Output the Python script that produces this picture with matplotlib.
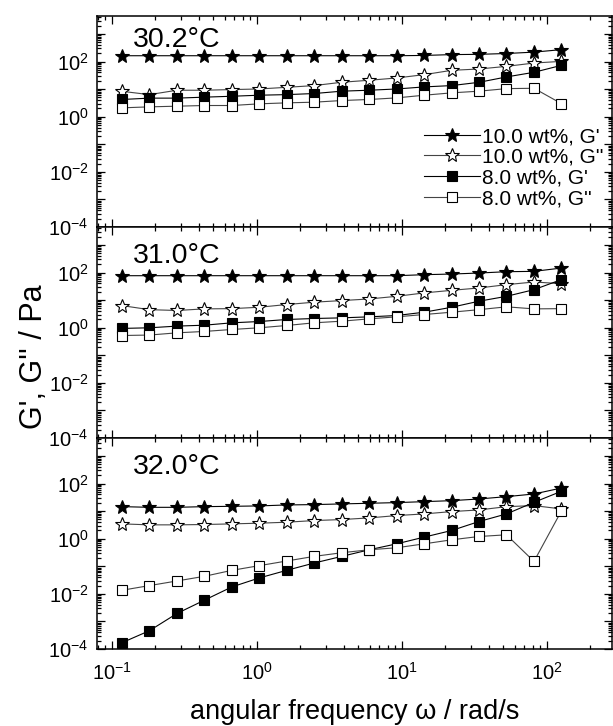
import math
import matplotlib
matplotlib.use("Agg")
import matplotlib.pyplot as plt
from matplotlib.ticker import LogLocator, FuncFormatter, NullFormatter

plt.rcParams["font.family"] = ["Liberation Sans", "DejaVu Sans"]
plt.rcParams["mathtext.fontset"] = "custom"
plt.rcParams["mathtext.rm"] = "Liberation Sans"
plt.rcParams["mathtext.it"] = "Liberation Sans:italic"
plt.rcParams["mathtext.default"] = "regular"

# angular frequency sweep (rad/s)
freq = [0.118, 0.182, 0.282, 0.436, 0.674, 1.04, 1.61, 2.49, 3.86, 5.97,
        9.23, 14.3, 22.1, 34.1, 52.8, 81.7, 126]

temps = ["30.2°C", "31.0°C", "32.0°C"]
series_labels = ["10.0 wt%, G'", "10.0 wt%, G''", "8.0 wt%, G'", "8.0 wt%, G''"]

# 30.2 °C
g1_10_302 = [162, 162, 162, 162, 162, 162, 162, 162, 162, 162, 162, 166, 178, 182, 195, 219, 269]
g2_10_302 = [8.3, 6.3, 9.1, 9.1, 9.6, 10.1, 11.6, 13.4, 17.7, 20.9, 25.3, 33.4, 47.9, 53.5, 66.7, 88.1, 101]
g1_8_302 = [4.2, 4.7, 4.7, 5.1, 5.5, 6.0, 6.3, 6.9, 8.4, 9.1, 10.1, 12.0, 13.4, 17.6, 27.6, 40.6, 72.4]
g2_8_302 = [2.09, 2.27, 2.40, 2.54, 2.54, 2.92, 3.17, 3.35, 3.85, 4.2, 4.8, 6.0, 7.3, 8.4, 10.4, 10.7, 3.0]

# 31.0 °C
g1_10_310 = [76.6, 76.6, 76.6, 76.6, 76.6, 76.6, 76.6, 76.6, 76.6, 76.6, 76.6, 83.4, 88, 95.7, 107, 110, 145]
g2_10_310 = [6.3, 4.5, 4.2, 4.8, 4.9, 5.5, 6.9, 8.4, 9.6, 11.0, 13.7, 18.2, 22.6, 27.5, 36.3, 45.3, 39.4]
g1_8_310 = [0.94, 0.99, 1.14, 1.23, 1.50, 1.67, 1.98, 2.15, 2.27, 2.47, 2.76, 3.64, 5.5, 9.1, 13.7, 23.9, 55]
g2_8_310 = [0.52, 0.54, 0.65, 0.73, 0.86, 0.99, 1.20, 1.50, 1.72, 2.09, 2.47, 3.0, 3.64, 4.5, 5.7, 4.8, 4.9]

# 32.0 °C
g1_10_320 = [14.5, 13.7, 13.7, 14.5, 14.9, 15.4, 16.7, 17.2, 18.2, 19.2, 20.3, 22.0, 23.9, 27.5, 33.4, 41.7, 68.5]
g2_10_320 = [3.44, 3.17, 3.17, 3.26, 3.44, 3.64, 3.95, 4.54, 4.93, 5.66, 6.88, 7.9, 9.6, 11.0, 14.5, 15.8, 12.0]
g1_8_320 = [1.7e-4, 4.6e-4, 1.94e-3, 5.9e-3, 0.0178, 0.0376, 0.0711, 0.131, 0.228, 0.396, 0.65, 1.14, 1.98, 4.18, 7.9, 20.8, 52]
g2_8_320 = [0.0135, 0.0199, 0.0293, 0.0432, 0.0711, 0.105, 0.155, 0.228, 0.309, 0.396, 0.468, 0.65, 0.91, 1.20, 1.38, 0.150, 9.9]

panels = [
    [g1_10_302, g2_10_302, g1_8_302, g2_8_302],
    [g1_10_310, g2_10_310, g1_8_310, g2_8_310],
    [g1_10_320, g2_10_320, g1_8_320, g2_8_320],
]

xlim = (0.0792, 282)
ylim = (1e-4, 10 ** 3.65)
y_labelled_exps = [-4, -2, 0, 2]

styles = [
    dict(marker="*", ms=10.5, mfc="black", mec="black"),
    dict(marker="*", ms=10.5, mfc="white", mec="black"),
    dict(marker="s", ms=6.8, mfc="black", mec="black"),
    dict(marker="s", ms=6.8, mfc="white", mec="black"),
]
line_colors = ["black", "#444444", "black", "#444444"]

fig = plt.figure(figsize=(6.13, 7.26), dpi=100)
gs = fig.add_gridspec(3, 1, left=97 / 613, right=612 / 613,
                      top=1 - 16 / 726, bottom=1 - 649 / 726, hspace=0)


def y_fmt(v, pos):
    e = round(math.log10(v))
    if abs(math.log10(v) - e) < 1e-6 and e in y_labelled_exps:
        return r"$10^{%d}$" % e
    return ""


label_y = [0.853, 0.83, 0.83]
axes = []
for i, data in enumerate(panels):
    ax = fig.add_subplot(gs[i])
    axes.append(ax)
    for vals, st, lc, lab in zip(data, styles, line_colors, series_labels):
        ax.plot(freq, vals, color=lc, lw=0.8, mew=0.8, label=lab, **st)
    ax.set_xscale("log")
    ax.set_yscale("log")
    ax.set_xlim(*xlim)
    ax.set_ylim(*ylim)
    ax.xaxis.set_major_locator(LogLocator(base=10, numticks=20))
    ax.xaxis.set_minor_locator(LogLocator(base=10, subs=range(2, 10), numticks=20))
    ax.yaxis.set_major_locator(LogLocator(base=10, numticks=20))
    ax.yaxis.set_minor_locator(LogLocator(base=10, subs=range(2, 10), numticks=20))
    ax.yaxis.set_major_formatter(FuncFormatter(y_fmt))
    ax.yaxis.set_minor_formatter(NullFormatter())
    ax.tick_params(which="both", direction="in", top=True, right=True,
                   width=0.9, labelsize=14.5)
    ax.tick_params(axis="y", pad=6)
    ax.tick_params(axis="x", pad=9)
    ax.tick_params(which="major", length=6)
    ax.tick_params(which="minor", length=3.2)
    for sp in ax.spines.values():
        sp.set_linewidth(1.1)
    if i < 2:
        ax.tick_params(labelbottom=False)
    ax.text(0.07, label_y[i], temps[i], transform=ax.transAxes,
            fontsize=20.5, va="baseline", ha="left")

leg = axes[0].legend(loc="lower right", bbox_to_anchor=(1.0, 0.05), frameon=False,
                     fontsize=15, numpoints=1, handlelength=2.7, handletextpad=0.1,
                     labelspacing=0.08, borderaxespad=0.0)

axes[2].set_xlabel("angular frequency ω / rad/s", fontsize=19.5, labelpad=11)
fig.text(0.055, 1 - 357 / 726, "G', G'' / Pa", rotation=90,
         fontsize=22, ha="center", va="center")

fig.savefig("out.png", dpi=100)
